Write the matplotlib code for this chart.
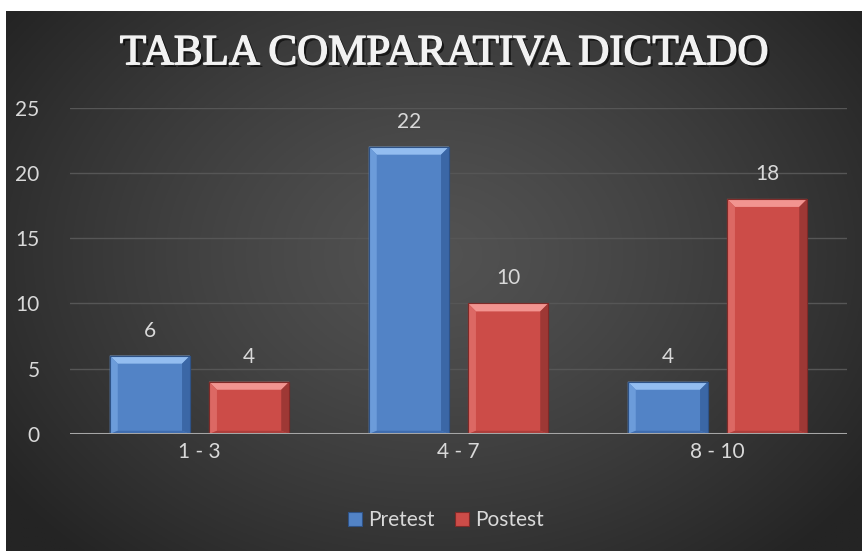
import numpy as np
import matplotlib
matplotlib.use("Agg")
import matplotlib.pyplot as plt
from matplotlib.patches import Polygon, Patch, Rectangle
import matplotlib.patheffects as pe

categories = ["1 - 3", "4 - 7", "8 - 10"]
series_names = ["Pretest", "Postest"]
pretest = [6, 22, 4]
postest = [4, 10, 18]
yticks = [0, 5, 10, 15, 20, 25]
title = "TABLA COMPARATIVA DICTADO"

W, H = 865, 551
fig = plt.figure(figsize=(W / 100, H / 100), dpi=100)
fig.patch.set_facecolor("white")

# background panel with radial gradient
bg = fig.add_axes([6 / W, 0, (862 - 6) / W, (551 - 11) / H])
bg.set_axis_off()
ny, nx = 300, 480
yy, xx = np.mgrid[0:ny, 0:nx]
cx, cy = nx * 0.5, ny * 0.45
r = np.sqrt(((xx - cx) / (nx * 0.62)) ** 2 + ((yy - cy) / (ny * 0.75)) ** 2)
r = np.clip(r, 0, 1)
inner = np.array([0x52, 0x52, 0x52]) / 255
outer = np.array([0x24, 0x24, 0x24]) / 255
img = inner[None, None, :] * (1 - r[..., None] ** 1.3) + outer[None, None, :] * (r[..., None] ** 1.3)
bg.imshow(img, aspect="auto", extent=[0, 1, 0, 1], origin="upper")
bg.set_xlim(0, 1)
bg.set_ylim(0, 1)

font = ["Lato", "DejaVu Sans"]
txtcol = "#D9D9D9"
fs = 15

ax_l, ax_r = 70 / W, 847 / W
ax_b, ax_t = (551 - 434) / H, (551 - 107.5) / H
ax = fig.add_axes([ax_l, ax_b, ax_r - ax_l, ax_t - ax_b])
ax.patch.set_alpha(0)
ax.set_xlim(-0.5, len(categories) - 0.5)
ax.set_ylim(0, 25)
for s in ax.spines.values():
    s.set_visible(False)
ax.set_yticks(yticks)
ax.set_yticklabels([str(v) for v in yticks], fontsize=fs, color=txtcol, family=font)
ax.set_xticks(range(len(categories)))
ax.set_xticklabels(categories, fontsize=fs, color=txtcol, family=font)
ax.tick_params(axis="both", length=0)
ax.tick_params(axis="y", pad=22)
ax.tick_params(axis="x", pad=6)
for v in yticks[1:]:
    ax.axhline(v, color="#565656", lw=1.0, zorder=1)
ax.axhline(0, color="#A6A6A6", lw=2.2, zorder=5)

bw = 0.31
gap = 0.073
ax_wpx = (ax_r - ax_l) * W
ax_hpx = (ax_t - ax_b) * H
bpx = 8
dx = bpx * 3 / ax_wpx
dy = bpx * 25 / ax_hpx

styles = {
    "Pretest": dict(face="#5283C6", top="#93BDF0", left="#6C9CDA", right="#3B67A6", bottom="#3F6DB0", edge="#2E5286"),
    "Postest": dict(face="#CC4C48", top="#F29490", left="#DC6864", right="#9E3835", bottom="#AE3E3B", edge="#7E2A28"),
}

def bevel_bar(xc, h, st):
    x0, x1 = xc - bw / 2, xc + bw / 2
    y0, y1 = 0, h
    polys = [
        ([(x0, y1), (x1, y1), (x1 - dx, y1 - dy), (x0 + dx, y1 - dy)], st["top"]),
        ([(x0, y0), (x0, y1), (x0 + dx, y1 - dy), (x0 + dx, y0 + dy * 0.4)], st["left"]),
        ([(x1, y0), (x1, y1), (x1 - dx, y1 - dy), (x1 - dx, y0 + dy * 0.4)], st["right"]),
        ([(x0, y0), (x1, y0), (x1 - dx, y0 + dy * 0.4), (x0 + dx, y0 + dy * 0.4)], st["bottom"]),
    ]
    ax.add_patch(Rectangle((x0, y0), bw, h, facecolor=st["face"], edgecolor=st["edge"], lw=0.8, zorder=3))
    for pts, c in polys:
        ax.add_patch(Polygon(pts, closed=True, facecolor=c, edgecolor="none", zorder=3.5))
    ax.add_patch(Rectangle((x0, y0), bw, h, facecolor="none", edgecolor=st["edge"], lw=0.8, zorder=3.6))

offsets = [-(bw + gap) / 2, (bw + gap) / 2]
for si, (name, vals) in enumerate(zip(series_names, [pretest, postest])):
    for i, v in enumerate(vals):
        xc = i + offsets[si]
        bevel_bar(xc, v, styles[name])
        ax.annotate(str(v), (xc, v), xytext=(0, 18), textcoords="offset points",
                    ha="center", va="center", fontsize=fs, color=txtcol, family=font, zorder=6)

# title
tcol = "#F2F2F2"
fig.text(0.5 + 11 / W, (551 - 54) / H, title, ha="center", va="center",
         fontsize=31, fontweight="normal", color=tcol, family=["Liberation Serif", "DejaVu Serif"],
         path_effects=[pe.withSimplePatchShadow(offset=(2, -2), shadow_rgbFace="black", alpha=0.6),
                       pe.withStroke(linewidth=1.0, foreground=tcol)])

handles = [Patch(facecolor=styles[n]["face"], edgecolor=styles[n]["edge"], lw=0.8) for n in series_names]
leg = fig.legend(handles, series_names, loc="center", bbox_to_anchor=(446 / W, (551 - 520) / H),
                 ncol=2, frameon=False, handlelength=0.67, handleheight=0.67, handletextpad=0.3,
                 columnspacing=1.0, prop={"family": font, "size": fs})
for t in leg.get_texts():
    t.set_color(txtcol)

fig.savefig("out.png", dpi=100, facecolor=fig.get_facecolor())
